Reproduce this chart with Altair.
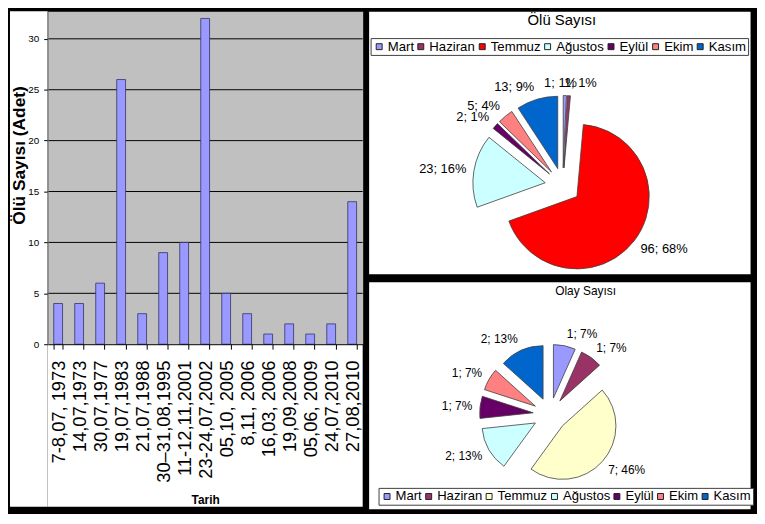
import altair as alt
import pandas as pd

# ---------------- data ----------------
dates = ["7-8,07, 1973", "14,07,1973", "30,07,1977", "19,07,1983", "21,07,1988",
         "30–31,08,1995", "11-12,11,2001", "23-24,07,2002", "05,10, 2005", "8,11, 2006",
         "16,03, 2006", "19,09,2008", "05,06, 2009", "24,07,2010", "27,08,2010"]
deaths = [4, 4, 6, 26, 3, 9, 10, 32, 5, 3, 1, 2, 1, 2, 14]
y_ticks = [0, 5, 10, 15, 20, 25, 30]
grid_vals = [5, 10, 15, 20, 25, 30]

months = ["Mart", "Haziran", "Temmuz", "Ağustos", "Eylül", "Ekim", "Kasım"]
olu_values = [1, 1, 96, 23, 2, 5, 13]
olu_pct = [1, 1, 68, 16, 1, 4, 9]
olay_values = [1, 1, 7, 2, 1, 1, 2]
olay_pct = [7, 7, 46, 13, 7, 7, 13]
olu_colors = ["#9999FF", "#993366", "#FF0000", "#CCFFFF", "#660066", "#FF8080", "#0066CC"]
olay_colors = ["#9999FF", "#993366", "#FFFFCC", "#CCFFFF", "#660066", "#FF8080", "#0066CC"]

FONT = "Liberation Sans"
NARROW = "Liberation Sans Narrow, Arial Narrow, Liberation Sans"

# ---------------- left panel: bar chart ----------------
L, W, H, B = 38, 318, 336, 164

bar_df = pd.DataFrame({"tarih": dates, "olu": deaths})
grid_df = pd.DataFrame({"olu": grid_vals})
one = pd.DataFrame({"k": [0]})

y_scale = alt.Scale(domain=[0, 32.7], nice=False, zero=True)
y_axis = alt.Axis(title="Ölü Sayısı (Adet)", titleFont=FONT, titleFontSize=17.5,
                  titleFontWeight="bold", titleColor="black",
                  titleX=-19, titleY=145, titleBaseline="bottom",
                  values=y_ticks, labelFont=NARROW, labelFontSize=10,
                  labelColor="black", labelPadding=5, tickSize=4,
                  tickColor="black", domainColor="#808080", grid=False,
                  zindex=1)

left_strip = alt.Chart(one).mark_rect(color="white").encode(
    x=alt.value(-L), x2=alt.value(0), y=alt.value(0), y2=alt.value(H + B))
bottom_strip = alt.Chart(one).mark_rect(color="white").encode(
    x=alt.value(0), x2=alt.value(W), y=alt.value(H), y2=alt.value(H + B))

grid = alt.Chart(grid_df).mark_rule(color="black", strokeWidth=1).encode(
    y=alt.Y("olu:Q", scale=y_scale, axis=y_axis))

bars = alt.Chart(bar_df).mark_bar(fill="#9999FF", stroke="#333366", strokeWidth=0.8).encode(
    x=alt.X("tarih:N", sort=dates,
            scale=alt.Scale(paddingInner=0.58, paddingOuter=0.29),
            axis=alt.Axis(title="Tarih", titleFont=NARROW, titleFontSize=12,
                          titleFontWeight="bold", titleColor="black", titleY=152,
                          titleBaseline="top",
                          labelAngle=-90, labelFont=FONT, labelFontSize=18.5,
                          labelColor="black", labelPadding=11, labelLimit=300,
                          tickSize=5, tickColor="black", tickBand="extent",
                          domainColor="black", grid=False, zindex=1)),
    y=alt.Y("olu:Q", scale=y_scale, axis=y_axis),
)

left = alt.layer(left_strip, bottom_strip, grid, bars).properties(
    width=W, height=H, view=alt.ViewBackground(fill="#C0C0C0", stroke="transparent"))


# ---------------- right panels: pies ----------------
def pie(values, pcts, colors, title, width, height, cx, cy, r, e, pad, lfs,
        tx, ty, tfs, legx, legy, legfs):
    df = pd.DataFrame({"ay": months, "v": values, "pct": pcts,
                       "sira": list(range(len(months)))})
    base = alt.Chart(df).transform_window(
        cum="sum(v)", sort=[alt.SortField("sira")], frame=[None, 0]
    ).transform_joinaggregate(
        total="sum(v)"
    ).transform_calculate(
        t0="(datum.cum - datum.v) / datum.total",
        t1="datum.cum / datum.total",
        mid="2 * PI * (datum.cum - datum.v / 2) / datum.total",
        px=f"{cx} + {e} * sin(datum.mid)",
        py=f"{cy} - {e} * cos(datum.mid)",
        lab="datum.v + '; ' + datum.pct + '%'",
        lx=f"datum.px + {r + pad} * sin(datum.mid) + length(datum.lab) * {lfs * 0.27} * clamp(20 * sin(datum.mid) - 0.7, -1, 1)",
        ly=f"datum.py - {r + pad} * cos(datum.mid) - {lfs * 0.46} * cos(datum.mid)",
    )
    arcs = base.mark_arc(radius=r, stroke="#404040", strokeWidth=0.8).encode(
        theta=alt.Theta("t0:Q", scale=alt.Scale(domain=[0, 1]), stack=False),
        theta2="t1:Q",
        x=alt.X("px:Q", scale=None, stack=False),
        y=alt.Y("py:Q", scale=None, stack=False),
        color=alt.Color("ay:N", sort=months,
                        scale=alt.Scale(domain=months, range=colors),
                        legend=alt.Legend(title=None, orient="none", legendX=legx,
                                          legendY=legy, direction="horizontal",
                                          columns=7, symbolType="square",
                                          symbolSize=36, symbolStrokeColor="#222222",
                                          symbolStrokeWidth=1, labelFont=FONT,
                                          labelFontSize=legfs, labelColor="black",
                                          labelOffset=2, columnPadding=0, padding=2,
                                          strokeColor="#404040", fillColor="white")),
    )
    labels = base.mark_text(font=FONT, fontSize=lfs, color="black",
                            align="center", baseline="middle").encode(
        x=alt.X("lx:Q", scale=None, stack=False),
        y=alt.Y("ly:Q", scale=None, stack=False),
        text="lab:N",
    )
    ttl = alt.Chart(pd.DataFrame({"t": [title]})).mark_text(
        font=FONT, fontSize=tfs, color="black", align="center", baseline="middle"
    ).encode(x=alt.value(tx), y=alt.value(ty), text="t:N")
    return alt.layer(arcs, labels, ttl).properties(
        width=width, height=height,
        view=alt.ViewBackground(fill="white", stroke="transparent"))


pie_top = pie(olu_values, olu_pct, olu_colors, "Ölü Sayısı", 385, 265,
              cx=196, cy=176, r=73, e=18, pad=7, lfs=13,
              tx=195, ty=9, tfs=15, legx=2, legy=27, legfs=13.3)
pie_bottom = pie(olay_values, olay_pct, olay_colors, "Olay Sayısı", 385, 229,
                 cx=183, cy=134, r=54, e=17, pad=7, lfs=12,
                 tx=219, ty=9, tfs=12, legx=10, legy=208, legfs=13.2)

right = alt.vconcat(pie_top, pie_bottom, spacing=6).resolve_scale(
    color="independent", theta="independent")

chart = alt.hconcat(left, right, spacing=4).properties(
    background="black",
    padding={"left": 1, "top": 0, "right": 3, "bottom": 2},
).configure(font=FONT).configure_view(stroke="transparent")

chart.save("out.html", embed_options={"renderer": "svg", "actions": False})
